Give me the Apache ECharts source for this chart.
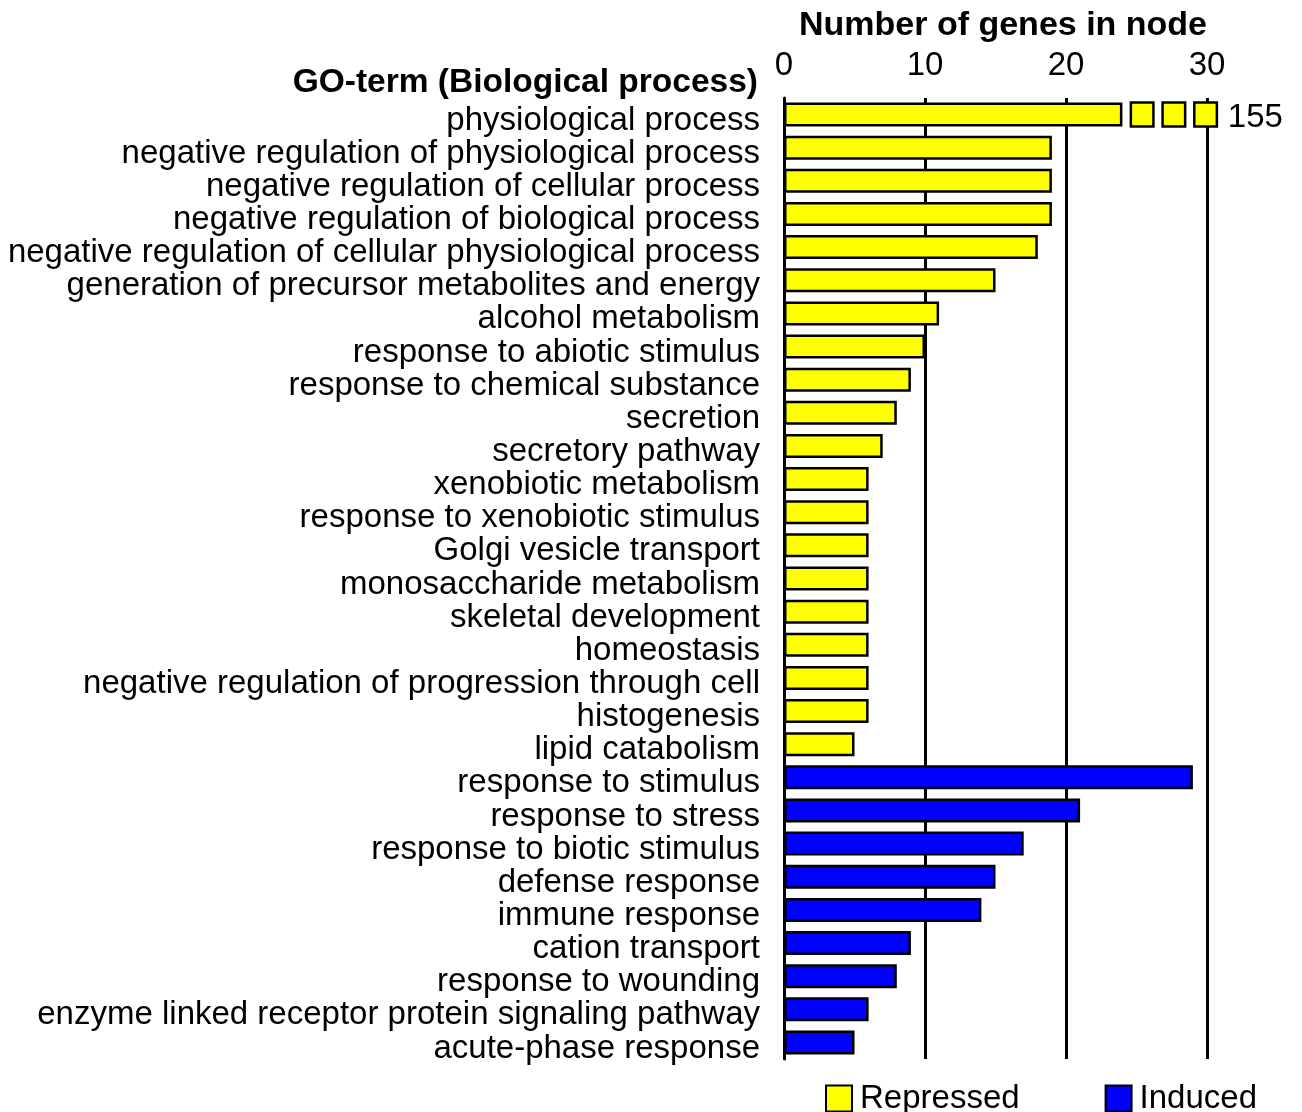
<!DOCTYPE html>
<html>
<head>
<meta charset="utf-8">
<script src="https://cdn.jsdelivr.net/npm/echarts@6/dist/echarts.min.js"></script>
<style>
  html, body { margin: 0; padding: 0; background: #fff; }
  #chart { width: 1302px; height: 1112px; }
</style>
</head>
<body>
<div id="chart"></div>
<script>
// GO terms, top to bottom
const categories = [
    'physiological process',
    'negative regulation of physiological process',
    'negative regulation of cellular process',
    'negative regulation of biological process',
    'negative regulation of cellular physiological process',
    'generation of precursor metabolites and energy',
    'alcohol metabolism',
    'response to abiotic stimulus',
    'response to chemical substance',
    'secretion',
    'secretory pathway',
    'xenobiotic metabolism',
    'response to xenobiotic stimulus',
    'Golgi vesicle transport',
    'monosaccharide metabolism',
    'skeletal development',
    'homeostasis',
    'negative regulation of progression through cell',
    'histogenesis',
    'lipid catabolism',
    'response to stimulus',
    'response to stress',
    'response to biotic stimulus',
    'defense response',
    'immune response',
    'cation transport',
    'response to wounding',
    'enzyme linked receptor protein signaling pathway',
    'acute-phase response'
];
const repressed = [155, 19, 19, 19, 18, 15, 11, 10, 9, 8, 7, 6, 6, 6, 6, 6, 6, 6, 6, 5];
const induced = [29, 21, 17, 15, 14, 9, 8, 6, 5];
const xTicks = [0, 10, 20, 30];

// bars longer than this are drawn broken
const breakAt = 24;

const font = 'Liberation Sans, Arial, sans-serif';

const repressedData = categories.map((c, i) => i < repressed.length ? Math.min(repressed[i], breakAt) : '-');
const inducedData = categories.map((c, i) => i >= repressed.length ? induced[i - repressed.length] : '-');
const brokenData = [];
repressed.forEach((v, i) => {
    if (v > breakAt) {
        brokenData.push([breakAt, i, v]);
    }
});

const chart = echarts.init(document.getElementById('chart'));
chart.setOption({
    animation: false,
    textStyle: { fontFamily: font },
    grid: { left: 784, right: 95, top: 98, bottom: 53 },
    xAxis: {
        type: 'value',
        position: 'top',
        min: xTicks[0],
        max: xTicks[xTicks.length - 1],
        interval: 10,
        axisLine: { show: false },
        axisTick: { show: false },
        axisLabel: { fontSize: 33, color: '#000', margin: 16, fontFamily: font },
        splitLine: { show: true, lineStyle: { color: '#000', width: 3 } }
    },
    yAxis: {
        type: 'category',
        inverse: true,
        data: categories,
        axisLine: { show: true, lineStyle: { color: '#000', width: 3 } },
        axisTick: { show: false },
        axisLabel: {
            interval: 0,
            color: '#000',
            margin: 24,
            formatter: v => '{t|' + v + '}',
            rich: {
                t: { fontSize: 33, color: '#000', fontFamily: font, padding: [12, 0, 0, 0] }
            }
        }
    },
    legend: {
        data: ['Repressed', 'Induced'],
        left: 820,
        top: 1077,
        icon: 'rect',
        itemWidth: 26,
        itemHeight: 26,
        itemGap: 85,
        textStyle: { fontSize: 33, color: '#000', fontFamily: font, padding: [0, 0, 0, 3] }
    },
    graphic: [
        {
            type: 'text',
            style: {
                text: 'Number of genes in node',
                x: 1003, y: 26,
                align: 'center', verticalAlign: 'middle',
                font: 'bold 34px ' + font, fill: '#000'
            }
        },
        {
            type: 'text',
            style: {
                text: 'GO-term (Biological process)',
                x: 758, y: 83,
                align: 'right', verticalAlign: 'middle',
                font: 'bold 33.5px ' + font, fill: '#000'
            }
        }
    ],
    series: [
        {
            name: 'Repressed',
            type: 'bar',
            stack: 'go',
            barWidth: 24,
            data: repressedData,
            itemStyle: { color: '#ffff00', borderColor: '#000', borderWidth: 2.5 }
        },
        {
            name: 'Induced',
            type: 'bar',
            stack: 'go',
            barWidth: 24,
            data: inducedData,
            itemStyle: { color: '#0000ff', borderColor: '#000', borderWidth: 2.5 }
        },
        {
            // break marks + true value for capped bars
            type: 'custom',
            clip: false,
            silent: true,
            data: brokenData,
            encode: { x: 0, y: 1 },
            renderItem(params, api) {
                const start = api.value(0);
                const idx = api.value(1);
                const y = api.coord([0, idx])[1];
                const h = 24;
                const children = [];
                let end = 0;
                for (let k = 0; k < 3; k++) {
                    const x0 = api.coord([start + 0.6 + k * 2.25, idx])[0];
                    const x1 = api.coord([start + 2.2 + k * 2.25, idx])[0];
                    end = x1;
                    children.push({
                        type: 'rect',
                        shape: { x: x0, y: y - h / 2, width: x1 - x0, height: h },
                        style: { fill: '#ffff00', stroke: '#000', lineWidth: 2.5 }
                    });
                }
                children.push({
                    type: 'text',
                    style: {
                        text: String(api.value(2)),
                        x: end + 11, y: y + 3,
                        verticalAlign: 'middle',
                        font: '33px ' + font, fill: '#000'
                    }
                });
                return { type: 'group', children };
            }
        }
    ]
});
</script>
</body>
</html>
